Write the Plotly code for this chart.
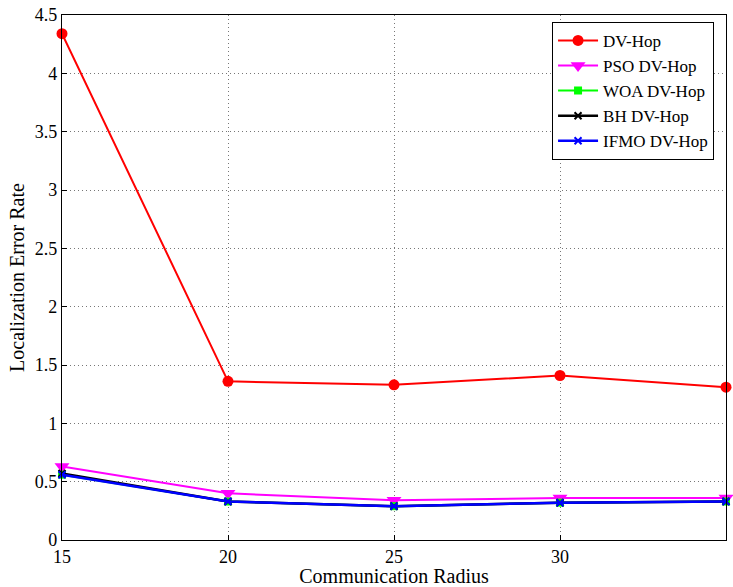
import plotly.graph_objects as go

radius = [15, 20, 25, 30, 35]
dv_hop = [4.34, 1.36, 1.33, 1.41, 1.31]
pso_dv_hop = [0.63, 0.40, 0.34, 0.36, 0.36]
woa_dv_hop = [0.56, 0.33, 0.29, 0.32, 0.33]
bh_dv_hop = [0.57, 0.33, 0.29, 0.32, 0.33]
ifmo_dv_hop = [0.56, 0.33, 0.29, 0.32, 0.33]

FONT = "Liberation Serif"

fig = go.Figure()
fig.add_trace(go.Scatter(x=radius, y=dv_hop, name="DV-Hop", mode="lines+markers", cliponaxis=False,
                         line=dict(color="#ff0000", width=2), marker=dict(symbol="circle", size=11, color="#ff0000")))
fig.add_trace(go.Scatter(x=radius, y=pso_dv_hop, name="PSO DV-Hop", mode="lines+markers", cliponaxis=False,
                         line=dict(color="#ff00ff", width=2), marker=dict(symbol="triangle-down", size=13, color="#ff00ff")))
fig.add_trace(go.Scatter(x=radius, y=woa_dv_hop, name="WOA DV-Hop", mode="lines+markers", cliponaxis=False,
                         line=dict(color="#00ff00", width=2), marker=dict(symbol="square", size=8, color="#00ff00")))
fig.add_trace(go.Scatter(x=radius, y=bh_dv_hop, name="BH DV-Hop", mode="lines+markers", cliponaxis=False,
                         line=dict(color="#000000", width=2.5), marker=dict(symbol="x-thin", size=7, color="#000000", line=dict(width=2, color="#000000"))))
fig.add_trace(go.Scatter(x=radius, y=ifmo_dv_hop, name="IFMO DV-Hop", mode="lines+markers", cliponaxis=False,
                         line=dict(color="#0000ff", width=2.5), marker=dict(symbol="x-thin", size=7, color="#0000ff", line=dict(width=2, color="#0000ff"))))

axis_common = dict(showline=True, linecolor="black", linewidth=1.3, mirror=True, ticks="inside", ticklen=5,
                   tickcolor="black", showgrid=True, gridcolor="#777777", griddash="1px,3px", gridwidth=1,
                   zeroline=False, automargin=False,
                   tickfont=dict(family=FONT, size=18, color="black"))

fig.update_layout(
    width=733, height=587,
    margin=dict(l=62, r=7, t=15, b=47),
    paper_bgcolor="white", plot_bgcolor="white",
    font=dict(family=FONT, size=18, color="black"),
    xaxis=dict(range=[15, 35], tickvals=[15, 20, 25, 30, 35],
               title=dict(text="Communication Radius", standoff=4, font=dict(family=FONT, size=20)), **axis_common),
    yaxis=dict(range=[0, 4.5], tickvals=[0, 0.5, 1, 1.5, 2, 2.5, 3, 3.5, 4, 4.5],
               ticktext=["0", "0.5", "1", "1.5", "2", "2.5", "3", "3.5", "4", "4.5"],
               title=dict(text="Localization Error Rate", standoff=4, font=dict(family=FONT, size=20)), **axis_common),
    legend=dict(x=0.982, y=0.987, xanchor="right", yanchor="top", bgcolor="white", bordercolor="black",
                borderwidth=1, font=dict(family=FONT, size=17), tracegroupgap=0, itemwidth=40),
    showlegend=True,
)
fig.write_html("out.html", config={"displayModeBar": False},
               post_script="document.body.style.margin='0';document.body.style.overflow='hidden';")
